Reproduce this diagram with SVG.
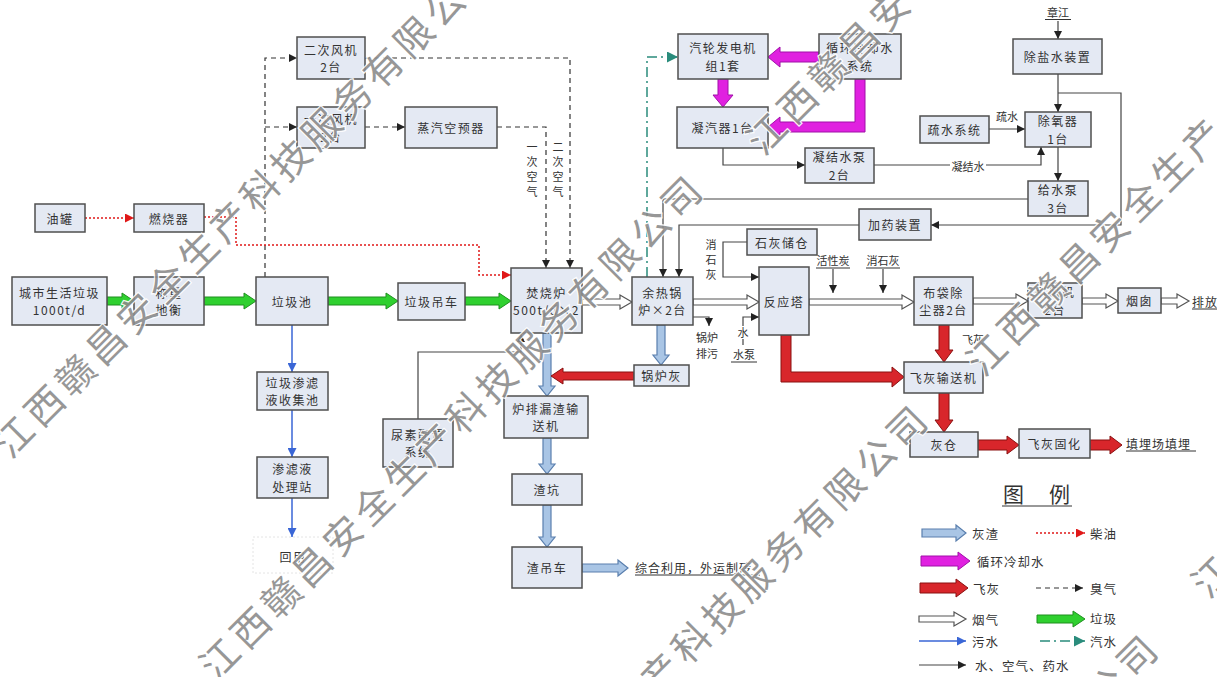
<svg xmlns="http://www.w3.org/2000/svg" width="1217" height="677" viewBox="0 0 1217 677">
<defs>
<style>
.box{fill:#e4e9f3;stroke:#4f4f4f;stroke-width:1.5}
.t{font-family:"Noto Sans CJK SC","Noto Sans CJK JP",sans-serif;font-size:12px;fill:#333;text-anchor:middle;dominant-baseline:central;letter-spacing:1.5px}
.s{font-family:"Noto Sans CJK SC","Noto Sans CJK JP",sans-serif;font-size:11px;fill:#333;text-anchor:middle;dominant-baseline:central}
.lg{font-family:"Noto Sans CJK SC","Noto Sans CJK JP",sans-serif;font-size:12.5px;fill:#333;dominant-baseline:central;letter-spacing:1px}
.ln{fill:none;stroke:#444;stroke-width:1.2}
.ul{fill:none;stroke:#333;stroke-width:1}
.dash{fill:none;stroke:#333;stroke-width:1.2;stroke-dasharray:5 4}
.teal{fill:none;stroke:#2a8c7c;stroke-width:1.5;stroke-dasharray:10 4 2 4}
.dot{fill:none;stroke:#e01818;stroke-width:1.5;stroke-dasharray:2 2}
.sew{fill:none;stroke:#3a66d6;stroke-width:1.5}
.green{fill:#2fd02f;stroke:#1f8f1f;stroke-width:1}
.smoke{fill:#fff;stroke:#555;stroke-width:1.2}
.ash{fill:#a9c5e5;stroke:#5a7fae;stroke-width:1.2}
.fly{fill:#d8262b;stroke:#8a1010;stroke-width:1}
.mag{fill:#e021e0;stroke:#a010a8;stroke-width:1}
.wm{font-family:"Noto Sans CJK SC","Noto Sans CJK JP",sans-serif;font-size:38px;fill:#8c8c8c;stroke:#fff;stroke-width:2.5;paint-order:stroke;letter-spacing:5.5px;dominant-baseline:central;opacity:0.9}
</style>
<marker id="ak" viewBox="0 0 10 10" refX="10" refY="5" markerWidth="8" markerHeight="8" markerUnits="userSpaceOnUse" orient="auto"><path d="M0,0 L10,5 L0,10 z" fill="#222"/></marker>
<marker id="ar" viewBox="0 0 10 10" refX="10" refY="5" markerWidth="9" markerHeight="9" markerUnits="userSpaceOnUse" orient="auto"><path d="M0,0 L10,5 L0,10 z" fill="#e01818"/></marker>
<marker id="ab" viewBox="0 0 10 10" refX="10" refY="5" markerWidth="9" markerHeight="9" markerUnits="userSpaceOnUse" orient="auto"><path d="M0,0 L10,5 L0,10 z" fill="#3a66d6"/></marker>
<marker id="at" viewBox="0 0 10 10" refX="10" refY="5" markerWidth="11" markerHeight="11" markerUnits="userSpaceOnUse" orient="auto"><path d="M0,0 L10,5 L0,10 z" fill="#2a8c7c"/></marker>
</defs>
<rect width="1217" height="677" fill="#fff"/>

<g id="connectors">
<path class="dash" d="M265,277 V58 H297" marker-end="url(#ak)"/>
<path class="dash" d="M265,127 H297" marker-end="url(#ak)"/>
<path class="dash" d="M365,58 H570 V268" marker-end="url(#ak)"/>
<path class="dash" d="M365,127 H405" marker-end="url(#ak)"/>
<path class="dash" d="M497,127 H546 V268" marker-end="url(#ak)"/>
<path class="dot" d="M85,218 H134" marker-end="url(#ar)"/>
<path class="dot" d="M204,217 H236 V245 H479 V275 H511" marker-end="url(#ar)"/>
<path class="teal" d="M647,277 V57 H678" marker-end="url(#at)"/>
<path class="ln" d="M723,148 V165 H805" marker-end="url(#ak)"/>
<path class="ln" d="M874,165 H1041 V147" marker-end="url(#ak)"/>
<path class="ln" d="M989,129 H1025" marker-end="url(#ak)"/>
<path class="ln" d="M1058,21 V39" marker-end="url(#ak)"/>
<path class="ln" d="M1058,74 V112" marker-end="url(#ak)"/>
<path class="ln" d="M1058,93 H1121 V225 H931" marker-end="url(#ak)"/>
<path class="ln" d="M1058,147 V181" marker-end="url(#ak)"/>
<path class="ln" d="M1028,199 H663 V277" marker-end="url(#ak)"/>
<path class="ln" d="M859,225 H679 V277" marker-end="url(#ak)"/>
<path class="ln" d="M747,242 H723 V277 H759" marker-end="url(#ak)"/>
<path class="ln" d="M693,317 H709 V326" marker-end="url(#ak)"/>
<path class="ln" d="M743,326 V317 H759" marker-end="url(#ak)"/>
<path class="ln" d="M743,339 V345"/>
<path class="ln" d="M833,269 V293" marker-end="url(#ak)"/>
<path class="ln" d="M883,269 V293" marker-end="url(#ak)"/>
<path class="ln" d="M418,419 V352 H521 V334" stroke="#667" marker-end="url(#ak)"/>
<path class="sew" d="M292,325 V372" marker-end="url(#ab)"/>
<path class="sew" d="M292,410 V457" marker-end="url(#ab)"/>
<path class="sew" d="M292,498 V537" marker-end="url(#ab)"/>
<path class="green" d="M107,297 H122 V293 L134,301 L122,309 V305 H107 Z"/>
<path class="green" d="M204,297 H244 V293 L256,301 L244,309 V305 H204 Z"/>
<path class="green" d="M328,297 H386 V293 L398,301 L386,309 V305 H328 Z"/>
<path class="green" d="M465,297 H499 V293 L511,301 L499,309 V305 H465 Z"/>
<path class="smoke" d="M582,299 H620 V295 L632,302 L620,309 V305 H582 Z"/>
<path class="smoke" d="M693,299 H747 V295 L759,302 L747,309 V305 H693 Z"/>
<path class="smoke" d="M809,299 H902 V295 L914,302 L902,309 V305 H809 Z"/>
<path class="smoke" d="M973,298 H1016 V294 L1028,301 L1016,308 V304 H973 Z"/>
<path class="smoke" d="M1082,298 H1106 V294 L1118,301 L1106,308 V304 H1082 Z"/>
<path class="smoke" d="M1161,298 H1177 V294 L1189,301 L1177,308 V304 H1161 Z"/>
<path class="ash" d="M543,333 V386 H539 L547,396 L555,386 H551 V333 Z"/>
<path class="ash" d="M657,325 V355 H653 L661,365 L669,355 H665 V325 Z"/>
<path class="ash" d="M543,438 V464 H539 L547,474 L555,464 H551 V438 Z"/>
<path class="ash" d="M543,505 V537 H539 L547,547 L555,537 H551 V505 Z"/>
<path class="ash" d="M582,564 H618 V560 L628,568 L618,576 V572 H582 Z"/>
<path class="fly" d="M634,372 H563 V368 L551,376 L563,384 V380 H634 Z"/>
<path class="fly" d="M781,335 V382 H892 V387 L904,377 L892,367 V372 H791 V335 Z"/>
<path class="fly" d="M939,325 V350 H935 L944,362 L953,350 H949 V325 Z"/>
<path class="fly" d="M939,393 V420 H935 L944,432 L953,420 H949 V393 Z"/>
<path class="fly" d="M978,440 H1007 V436 L1019,445 L1007,454 V450 H978 Z"/>
<path class="fly" d="M1090,440 H1110 V436 L1122,445 L1110,454 V450 H1090 Z"/>
<path class="mag" d="M819,52 H780 V47 L768,57 L780,67 V62 H819 Z"/>
<path class="mag" d="M718,79 V95 H713 L723,107 L733,95 H728 V79 Z"/>
<path class="mag" d="M865,79 V132 H780 V137 L768,127 L780,117 V122 H855 V79 Z"/>
</g>

<g id="n-secondary-fan"><rect class="box" x="297" y="37" width="68" height="42"/><text class="t" x="331" y="49.25">二次风机</text><text class="t" x="331" y="66.75">2台</text></g>
<g id="n-primary-fan"><rect class="box" x="297" y="107" width="68" height="41"/><text class="t" x="331" y="118.75">一次风机</text><text class="t" x="331" y="136.25">2台</text></g>
<g id="n-preheater"><rect class="box" x="405" y="107" width="92" height="41"/><text class="t" x="451" y="127.5">蒸汽空预器</text></g>
<g id="n-oil"><rect class="box" x="35" y="204" width="50" height="28"/><text class="t" x="60" y="218">油罐</text></g>
<g id="n-burner"><rect class="box" x="134" y="204" width="70" height="28"/><text class="t" x="169" y="218">燃烧器</text></g>
<g id="n-msw"><rect class="box" x="12" y="277" width="95" height="48"/><text class="t" x="59.5" y="292.25">城市生活垃圾</text><text class="t" x="59.5" y="309.75">1000t/d</text></g>
<g id="n-weigh"><rect class="box" x="134" y="277" width="70" height="48"/><text class="t" x="169" y="292.25">称重</text><text class="t" x="169" y="309.75">地衡</text></g>
<g id="n-pit"><rect class="box" x="256" y="277" width="72" height="48"/><text class="t" x="292" y="301">垃圾池</text></g>
<g id="n-crane"><rect class="box" x="398" y="283" width="67" height="37"/><text class="t" x="431.5" y="301.5">垃圾吊车</text></g>
<g id="n-incinerator"><rect class="box" x="511" y="268" width="71" height="65"/><text class="t" x="546.5" y="292">焚烧炉</text><text class="t" x="546.5" y="309.5">500t/d×2</text></g>
<g id="n-boiler"><rect class="box" x="632" y="277" width="61" height="48"/><text class="t" x="662.5" y="292.25">余热锅</text><text class="t" x="662.5" y="309.75">炉×2台</text></g>
<g id="n-lime"><rect class="box" x="747" y="229" width="70" height="26"/><text class="t" x="782" y="242">石灰储仓</text></g>
<g id="n-reactor"><rect class="box" x="759" y="267" width="50" height="68"/><text class="t" x="784" y="301">反应塔</text></g>
<g id="n-dosing"><rect class="box" x="859" y="209" width="72" height="31"/><text class="t" x="895" y="224.5">加药装置</text></g>
<g id="n-bag"><rect class="box" x="914" y="277" width="59" height="48"/><text class="t" x="943.5" y="292.25">布袋除</text><text class="t" x="943.5" y="309.75">尘器2台</text></g>
<g id="n-idfan"><rect class="box" x="1028" y="283" width="54" height="35"/><text class="t" x="1055" y="291.75">引风机</text><text class="t" x="1055" y="309.25">2台</text></g>
<g id="n-stack"><rect class="box" x="1118" y="288" width="43" height="25"/><text class="t" x="1139.5" y="300.5">烟囱</text></g>
<g id="n-fa-conveyor"><rect class="box" x="904" y="362" width="79" height="31"/><text class="t" x="943.5" y="377.5">飞灰输送机</text></g>
<g id="n-ash-silo"><rect class="box" x="910" y="432" width="68" height="25"/><text class="t" x="944" y="444.5">灰仓</text></g>
<g id="n-fa-solid"><rect class="box" x="1019" y="429" width="71" height="29"/><text class="t" x="1054.5" y="443.5">飞灰固化</text></g>
<g id="n-turbine"><rect class="box" x="678" y="34" width="90" height="45"/><text class="t" x="723" y="47.75">汽轮发电机</text><text class="t" x="723" y="65.25">组1套</text></g>
<g id="n-cooling"><rect class="box" x="819" y="34" width="82" height="45"/><text class="t" x="860" y="47.75">循环冷却水</text><text class="t" x="860" y="65.25">系统</text></g>
<g id="n-condenser"><rect class="box" x="677" y="107" width="91" height="41"/><text class="t" x="722.5" y="127.5">凝汽器1台</text></g>
<g id="n-cond-pump"><rect class="box" x="805" y="148" width="69" height="35"/><text class="t" x="839.5" y="156.75">凝结水泵</text><text class="t" x="839.5" y="174.25">2台</text></g>
<g id="n-demin"><rect class="box" x="1013" y="39" width="89" height="35"/><text class="t" x="1057.5" y="56.5">除盐水装置</text></g>
<g id="n-drain"><rect class="box" x="920" y="116" width="69" height="27"/><text class="t" x="954.5" y="129.5">疏水系统</text></g>
<g id="n-deaerator"><rect class="box" x="1025" y="112" width="66" height="35"/><text class="t" x="1058" y="120.75">除氧器</text><text class="t" x="1058" y="138.25">1台</text></g>
<g id="n-feed-pump"><rect class="box" x="1028" y="181" width="60" height="35"/><text class="t" x="1058" y="189.75">给水泵</text><text class="t" x="1058" y="207.25">3台</text></g>
<g id="n-grate-conv"><rect class="box" x="504" y="396" width="84" height="42"/><text class="t" x="546" y="408.25">炉排漏渣输</text><text class="t" x="546" y="425.75">送机</text></g>
<g id="n-urea"><rect class="box" x="383" y="419" width="70" height="48"/><text class="t" x="418" y="434.25">尿素配置</text><text class="t" x="418" y="451.75">系统</text></g>
<g id="n-boiler-ash"><rect class="box" x="634" y="365" width="55" height="21"/><text class="t" x="661.5" y="375.5">锅炉灰</text></g>
<g id="n-slag-pit"><rect class="box" x="512" y="474" width="70" height="31"/><text class="t" x="547" y="489.5">渣坑</text></g>
<g id="n-slag-crane"><rect class="box" x="512" y="547" width="70" height="41"/><text class="t" x="547" y="567.5">渣吊车</text></g>
<g id="n-leach-pool"><rect class="box" x="257" y="372" width="71" height="38"/><text class="t" x="292.5" y="382.25">垃圾渗滤</text><text class="t" x="292.5" y="399.75">液收集池</text></g>
<g id="n-leach-plant"><rect class="box" x="257" y="457" width="71" height="41"/><text class="t" x="292.5" y="468.75">渗滤液</text><text class="t" x="292.5" y="486.25">处理站</text></g>
<g id="n-reuse"><rect x="253" y="537" width="80" height="36" fill="#fff" stroke="#e4e4e4" stroke-width="1" stroke-dasharray="2 2"/><text class="t" x="293" y="556">回用</text></g>

<g id="labels">
<text class="s"><tspan x="532" y="146">一</tspan><tspan x="532" y="161">次</tspan><tspan x="532" y="176">空</tspan><tspan x="532" y="191">气</tspan></text>
<text class="s"><tspan x="558" y="146">二</tspan><tspan x="558" y="161">次</tspan><tspan x="558" y="176">空</tspan><tspan x="558" y="191">气</tspan></text>
<text class="s"><tspan x="711" y="244">消</tspan><tspan x="711" y="259">石</tspan><tspan x="711" y="274">灰</tspan></text>
<text class="s" x="707" y="337">锅炉</text>
<text class="s" x="707" y="353">排污</text>
<text class="s" x="743" y="332">水</text>
<text class="s" x="744" y="354">水泵</text><path class="ul" d="M731,362 H757"/>
<text class="s" x="833" y="260">活性炭</text><path class="ul" d="M816,268 H850"/>
<text class="s" x="883" y="260">消石灰</text><path class="ul" d="M866,268 H900"/>
<text class="s" x="973" y="339">飞灰</text>
<text class="s" x="1007" y="116">疏水</text>
<rect x="950" y="159" width="36" height="14" fill="#fff"/><text class="s" x="968" y="166">凝结水</text>
<text class="s" x="1058" y="12">章江</text><path class="ul" d="M1045,19.5 H1071"/>
<text class="lg" x="635" y="567" style="font-size:12px">综合利用，外运制砖</text><path class="ul" d="M635,575 H760"/>
<text class="lg" x="1126" y="443" style="font-size:12px">填埋场填埋</text><path class="ul" d="M1126,451 H1196"/>
<text class="lg" x="1192" y="301" style="font-size:12px">排放</text><path class="ul" d="M1192,309 H1217"/>
</g>

<g id="legend">
<text class="lg" x="1003" y="493" style="font-size:21px;letter-spacing:0">图</text>
<text class="lg" x="1049" y="493" style="font-size:21px;letter-spacing:0">例</text>
<path class="ul" d="M1002,506 H1072" stroke-width="1.5"/>
<path class="ash" d="M922,529 H956 V525 L966,533 L956,541 V537 H922 Z"/><text class="lg" x="972" y="533">灰渣</text>
<path class="dot" d="M1036,533 H1085" marker-end="url(#ar)"/><text class="lg" x="1090" y="533">柴油</text>
<path class="mag" d="M921,556 H958 V552 L970,561 L958,570 V566 H921 Z"/><text class="lg" x="977" y="561">循环冷却水</text>
<path class="fly" d="M920,583 H956 V579 L968,588 L956,597 V593 H920 Z"/><text class="lg" x="973" y="588">飞灰</text>
<path class="dash" d="M1036,588 H1083" marker-end="url(#ak)"/><text class="lg" x="1090" y="588">臭气</text>
<path class="smoke" d="M919,616 H954 V612 L966,619 L954,626 V622 H919 Z"/><text class="lg" x="972" y="619">烟气</text>
<path class="green" d="M1037,615 H1073 V611 L1085,619 L1073,627 V623 H1037 Z"/><text class="lg" x="1090" y="618">垃圾</text>
<path class="sew" d="M919,641 H966" marker-end="url(#ab)"/><text class="lg" x="972" y="641">污水</text>
<path class="teal" d="M1040,641 H1085" marker-end="url(#at)"/><text class="lg" x="1090" y="641">汽水</text>
<path class="ln" d="M919,665 H966" marker-end="url(#ak)"/><text class="lg" x="975" y="665">水、空气、药水</text>
</g>

<g id="watermark">
<text class="wm" transform="translate(-1.4,448.4) rotate(-45)">江西赣昌安全生产科技服务有限公</text>
<text class="wm" transform="translate(204.6,670.4) rotate(-45)">江西赣昌安全生产科技服务有限公司</text>
<text class="wm" transform="translate(751.6,145.4) rotate(-45)">江西赣昌安</text>
<text class="wm" transform="translate(645.2,684.8) rotate(-45)">产科技服务有限公司</text>
<text class="wm" transform="translate(971.6,366.4) rotate(-45)">江西赣昌安全生产</text>
<text class="wm" transform="translate(1090.8,699.2) rotate(-45)">公司</text>
<text class="wm" transform="translate(1196.6,588.4) rotate(-45)">江</text>
</g>
</svg>
